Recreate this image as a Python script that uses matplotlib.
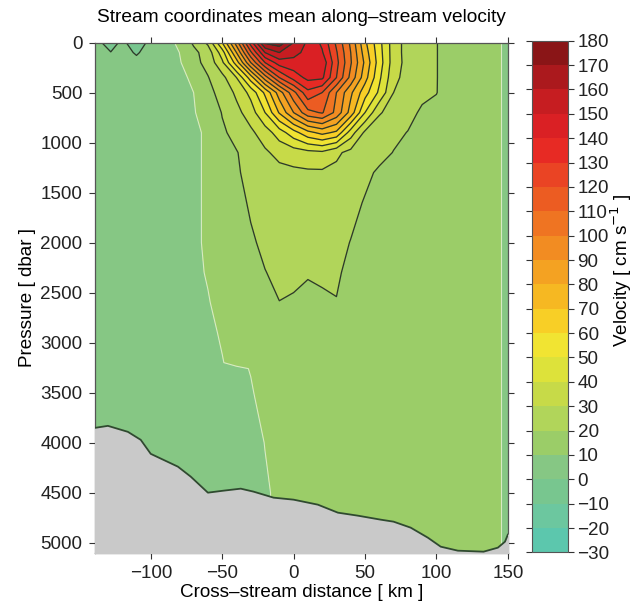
import numpy as np
import matplotlib
matplotlib.use('Agg')
import matplotlib.pyplot as plt
from matplotlib.colors import ListedColormap, BoundaryNorm

plt.rcParams['font.family'] = ['Liberation Sans', 'DejaVu Sans']
plt.rcParams['font.size'] = 13.6

# cross-stream distance [km] and pressure [dbar] of the gridded section
dist = [-139, -128, -120, -110, -100, -80, -70, -60, -50, -40, -30, -20, -10, 0,
        10, 20, 30, 40, 50, 60, 70, 80, 90, 100, 110, 125, 140, 150]
pres = [0, 100, 200, 350, 500, 700, 900, 1100, 1300, 1600, 2000, 2300, 2600,
        2900, 3200, 3260, 3500, 4000, 4500, 5100]

# mean along-stream velocity [cm/s], one row per pressure level
vel = [
    [3, -4, 2, -5, 2.5, 11.5, 21.5, 32, 60, 95, 135, 172, 176, 160, 148, 138, 118, 98, 72, 53, 35, 26, 23, 20.3, 16, 14, 12.5, 8],
    [4, 0.3, 4, -1.2, 4.5, 10, 17.5, 24.5, 45, 80, 118, 150, 160, 153, 147, 141, 121, 100, 75, 54, 35, 26, 22.5, 20.3, 16, 14, 12.5, 8],
    [4.5, 4, 4.5, 3, 5, 9, 17, 23, 38, 65, 100, 130, 145, 147, 148, 147, 123, 101, 78, 55, 35, 26.5, 22, 20.3, 16, 14, 12.5, 8],
    [5, 5, 5, 5, 5.5, 8, 11.5, 19.5, 27, 40, 65, 95, 120, 134, 143, 142, 120, 97, 74, 52, 33, 26, 21.5, 20.3, 16, 14, 12.5, 8],
    [5, 5, 5, 5, 5.5, 7.5, 10, 17.5, 23, 32, 43, 62, 85, 107, 127, 120, 100, 82, 64, 48, 30, 25, 21.5, 20.2, 16.5, 14, 12.5, 8],
    [5, 5, 5, 5, 5.5, 7.5, 9.6, 12.5, 20.5, 27, 35, 50, 71, 90, 107, 111, 97, 76, 50, 31, 26, 22, 19, 18, 16, 14, 12.5, 8],
    [5, 5, 5, 5, 5.5, 7, 8.8, 11, 18.5, 23, 28, 35, 45, 56, 67, 73, 68, 45, 28, 24, 21.5, 19.8, 18.5, 17.5, 16, 14, 12.5, 8],
    [5, 5, 5, 5, 5.5, 7, 8.8, 11, 16, 19.5, 24, 28.5, 33, 35, 37, 38, 32, 27, 24, 22, 19.8, 18.5, 17.5, 17, 16, 14, 12.5, 8],
    [5, 5, 5, 5, 5.5, 7, 8.8, 11, 15, 19, 22.5, 25, 27, 28, 28.5, 28.5, 27.5, 25, 21.5, 19, 18, 17.5, 17, 16.5, 16, 14, 12.5, 8],
    [5, 5, 5, 5, 5.5, 7, 8.8, 11, 14, 17.5, 21, 23, 24.5, 25, 25, 25, 24, 22, 19.5, 18, 17.5, 17, 17, 16.5, 16, 14, 12.5, 8],
    [5, 5, 5, 5, 5.5, 7, 8.8, 11, 13.5, 16, 19, 21.5, 23, 23.5, 23.5, 23, 22, 19.8, 18.5, 17.5, 17, 16.8, 16.5, 16.3, 16, 14, 12.5, 8],
    [5, 5, 5, 5, 5.5, 7, 8.6, 10.5, 13, 15.5, 17.5, 19.8, 21.5, 21, 20.3, 20.6, 20.8, 18.5, 17.8, 17.2, 16.8, 16.5, 16.3, 16.2, 16, 14, 12.5, 8],
    [5, 5, 5, 5, 5.5, 6.8, 8.3, 9.6, 12, 14.5, 16.5, 18.5, 19.9, 19.5, 19, 19.4, 19.8, 18, 17.5, 17, 16.7, 16.4, 16.2, 16.1, 16, 14, 12.5, 8],
    [5, 5, 5, 5, 5.5, 6.5, 8, 9, 10.5, 13, 15, 17, 18, 18, 18, 18, 18, 17.5, 17, 16.8, 16.5, 16.3, 16.1, 16, 15.8, 14, 12.5, 8],
    [5, 5, 5, 5, 5.5, 6.5, 7.5, 8.5, 9.8, 11.5, 13.5, 15.5, 16.5, 17, 17, 17, 17, 17, 16.8, 16.5, 16.3, 16.1, 16, 15.8, 15.5, 14, 12.5, 8],
    [5, 5, 5, 5, 5.5, 6.5, 7.2, 7.8, 8.2, 9, 10.2, 12.5, 15, 16.5, 17, 17, 17, 17, 16.8, 16.5, 16.3, 16.1, 16, 15.8, 15.5, 14, 12.5, 8],
    [5, 5, 5, 5, 5.5, 6.5, 7, 7.5, 8, 8.8, 9.6, 11.5, 14, 16, 16.8, 17, 17, 16.8, 16.6, 16.4, 16.2, 16, 15.9, 15.8, 15.5, 14, 12.5, 8],
    [5, 5, 5, 5, 5.5, 6.5, 7, 7.3, 7.6, 8, 8.5, 10.1, 12.5, 15, 16.5, 16.8, 16.8, 16.6, 16.4, 16.2, 16, 15.9, 15.8, 15.7, 15.5, 14, 12.5, 8],
    [5, 5, 5, 5, 5.5, 6.5, 7, 7.2, 7.5, 8, 8.5, 9.5, 10.8, 13.5, 16, 16.5, 16.5, 16.4, 16.2, 16, 15.9, 15.8, 15.7, 15.6, 15.5, 14, 12.5, 8],
    [5, 5, 5, 5, 5.5, 6.5, 7, 7.2, 7.5, 8, 8.5, 9.5, 10.8, 13.5, 16, 16.5, 16.5, 16.4, 16.2, 16, 15.9, 15.8, 15.7, 15.6, 15.5, 14, 12.5, 8],
]

# bottom depth along the section
bathy_x = [-139, -130, -116, -107, -100, -81, -72, -60, -49, -37, -28, -14, 0, 17,
           31, 45, 61, 70, 82, 94, 103, 115, 133, 143, 148, 150]
bathy_p = [3852, 3832, 3892, 3972, 4112, 4240, 4340, 4500, 4480, 4460, 4490, 4550,
           4570, 4620, 4700, 4730, 4770, 4790, 4850, 4950, 5040, 5080, 5090, 5050,
           4990, 4920]

levels = list(range(-30, 190, 10))
colors = ['#5cc7ad', '#6cc79f', '#78c68f', '#86c784', '#9bcd68', '#b1d55a',
          '#c7da48', '#dde23a', '#f1e432', '#f8cf26', '#f6b822', '#f4a222',
          '#f28c22', '#ef7422', '#ec5c22', '#ea4424', '#e72a24', '#da2024',
          '#c61d21', '#ab191d', '#8a1517']
cmap = ListedColormap(colors)
norm = BoundaryNorm(levels, cmap.N)

X, P = np.meshgrid(dist, pres)
V = np.array(vel)

fig = plt.figure(figsize=(6.38, 6.08), dpi=100)
ax = fig.add_axes([0.149, 0.091, 0.647, 0.839])

cf = ax.contourf(X, P, V, levels=levels, cmap=cmap, norm=norm)
ax.contour(X, P, V, levels=[10], colors='white', linewidths=0.8, alpha=0.6)
line_levels = [0] + list(range(20, 180, 10))
ax.contour(X, P, V, levels=line_levels, colors='#2c3a2a', linewidths=0.95)

ax.fill_between(bathy_x, bathy_p, 5200, color='#c9c9c9', zorder=3)
ax.plot(bathy_x, bathy_p, color='#2f4a2f', lw=1.3, zorder=4)

ax.set_xlim(-139, 150)
ax.set_ylim(5100, 0)
ax.set_xticks([-100, -50, 0, 50, 100, 150])
ax.set_yticks(range(0, 5001, 500))
ax.tick_params(direction='out', length=4, width=0.8, pad=5, colors='#333333',
               top=True, right=True, labelcolor='#222222')
for s in ax.spines.values():
    s.set_color('#555555')
    s.set_linewidth(0.9)

ax.set_title('Stream coordinates mean along\u2013stream velocity', fontsize=13.8, pad=15)
ax.set_xlabel('Cross\u2013stream distance [ km ]', labelpad=1)
ax.set_ylabel('Pressure [ dbar ]', labelpad=3)

cax = fig.add_axes([0.834, 0.0915, 0.056, 0.8415])
cb = fig.colorbar(cf, cax=cax, ticks=levels)
cb.outline.set_edgecolor('#555555')
cax.tick_params(left=True, right=True, direction='out', length=4, width=0.8,
                pad=3, colors='#333333', labelcolor='#222222')
cb.set_label('Velocity [ cm s$^{-1}$ ]')
cax.yaxis.set_label_coords(2.15, 0.55)

fig.savefig('out.png', dpi=100)
